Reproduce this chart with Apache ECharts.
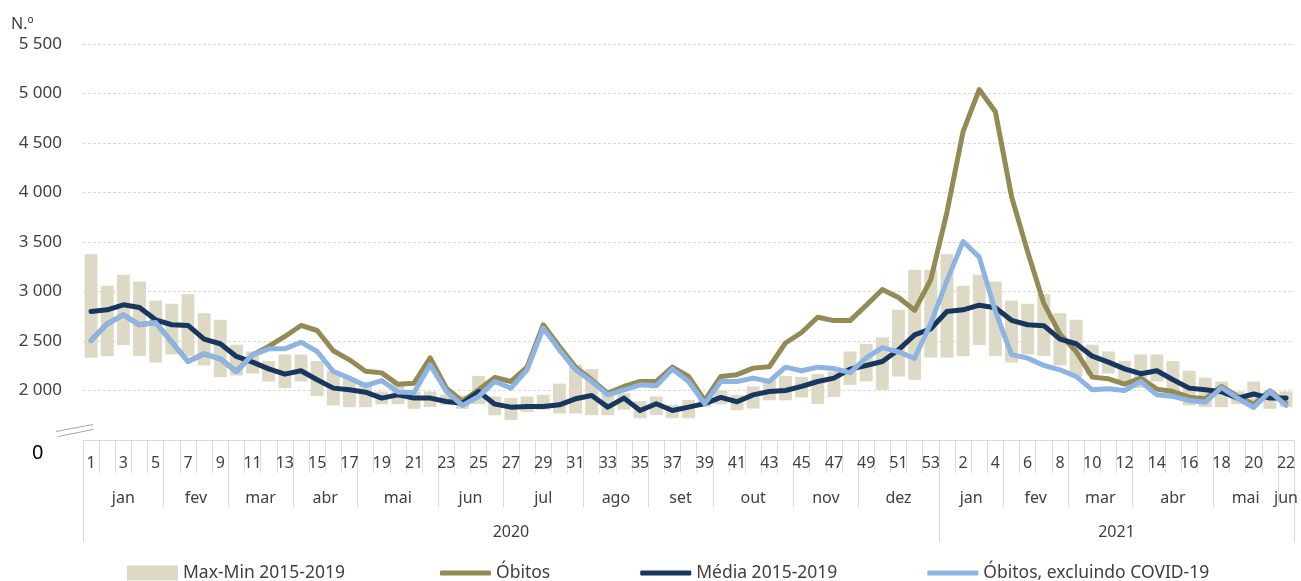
<!DOCTYPE html>
<html><head><meta charset="utf-8">
<script src="https://cdn.jsdelivr.net/npm/echarts@6/dist/echarts.min.js"></script>
<style>html,body{margin:0;padding:0;background:#fff}#c{width:1301px;height:581px}</style>
</head><body><div id="c"></div>
<script>
// Week categories (2020: weeks 1-53, 2021: weeks 1-22)
const weeks = ['1','2','3','4','5','6','7','8','9','10','11','12','13','14','15','16','17','18','19','20','21','22','23','24','25','26','27','28','29','30','31','32','33','34','35','36','37','38','39','40','41','42','43','44','45','46','47','48','49','50','51','52','53',
  '1','2','3','4','5','6','7','8','9','10','11','12','13','14','15','16','17','18','19','20','21','22'];
// Max-Min 2015-2019 band
const maxVals = [3377,3057,3169,3101,2909,2876,2973,2781,2714,2462,2394,2297,2364,2364,2297,2200,2130,2090,1990,2090,1990,1990,1960,1950,2148,1940,1923,1940,1956,2070,2261,2216,1970,1973,1893,1940,1855,1906,1940,2000,1956,2041,2120,2145,2138,2166,2190,2394,2470,2536,2815,3219,3219,
  3377,3057,3169,3101,2909,2876,2973,2781,2714,2462,2394,2297,2364,2364,2297,2200,2130,2090,1990,2090,1990,1990];
const minVals = [2330,2347,2460,2348,2283,2364,2350,2253,2135,2152,2172,2091,2024,2091,1943,1849,1832,1832,1862,1862,1815,1832,1855,1815,1862,1750,1704,1785,1805,1768,1768,1751,1750,1805,1721,1754,1721,1721,1835,1860,1800,1818,1900,1900,1930,1864,1934,2057,2091,2007,2142,2108,2333,
  2330,2347,2460,2348,2283,2364,2350,2253,2135,2152,2172,2091,2024,2091,1943,1849,1832,1832,1862,1862,1815,1832];
// Óbitos
const obitos = [2505,2674,2764,2664,2687,2488,2293,2371,2320,2192,2360,2445,2546,2657,2606,2401,2310,2195,2178,2062,2074,2330,2024,1890,2007,2131,2091,2236,2663,2445,2236,2108,1973,2041,2091,2091,2236,2142,1900,2142,2160,2226,2240,2480,2586,2740,2706,2706,2860,3020,2940,2810,3120,
  3800,4615,5040,4815,3960,3400,2880,2569,2394,2135,2118,2064,2125,2014,1990,1933,1916,2041,1940,1862,1997,1872];
// Média 2015-2019
const media = [2798,2815,2866,2839,2714,2664,2657,2519,2472,2344,2286,2219,2165,2199,2108,2024,2007,1983,1923,1956,1923,1923,1889,1872,1990,1862,1832,1839,1839,1855,1916,1950,1832,1923,1798,1866,1798,1832,1868,1930,1886,1956,1990,2000,2041,2091,2125,2216,2253,2293,2411,2562,2623,
  2798,2815,2862,2836,2709,2664,2655,2519,2472,2347,2286,2219,2170,2199,2108,2024,2007,1987,1923,1965,1923,1923];
// Óbitos, excluindo COVID-19
const semCovid = [2505,2674,2764,2664,2687,2488,2293,2371,2320,2192,2360,2421,2421,2488,2394,2192,2125,2049,2100,1985,1980,2259,1990,1850,1940,2091,2024,2209,2630,2411,2209,2091,1956,2007,2057,2047,2216,2091,1865,2091,2091,2125,2091,2236,2200,2236,2222,2180,2330,2433,2390,2325,2680,
  3110,3505,3347,2800,2362,2327,2253,2209,2142,2007,2017,2000,2091,1956,1940,1899,1882,2030,1923,1828,1990,1849];
const monthNames = ['jan','fev','mar','abr','mai','jun','jul','ago','set','out','nov','dez','jan','fev','mar','abr','mai','jun'];
const monthBounds = [0,5,9,13,17,22,26,31,35,39,44,48,53,57,61,65,70,74,75];
const yearNames = ['2020','2021'];
const yearBounds = [0,53,75];
const yTicks = [2000,2500,3000,3500,4000,4500,5000,5500];

const FONT = 'Noto Sans';
const TXT = '#404040';
const GRIDC = '#d9d9d9';

const monthCenters = monthNames.map((m,i)=>(monthBounds[i]+monthBounds[i+1])/2);
const yearCenters = yearNames.map((m,i)=>(yearBounds[i]+yearBounds[i+1])/2);
const rangeVals = maxVals.map((v,i)=>v-minVals[i]);
const fmtSpace = v => String(v).replace(/\B(?=(\d{3})+(?!\d))/g,' ');

const chart = echarts.init(document.getElementById('c'), null, {renderer:'canvas'});
const legendText = {fontFamily:FONT,fontSize:17.5,color:TXT};
const option = {
  animation:false,
  textStyle:{fontFamily:FONT},
  grid:{left:83,right:4,top:44,bottom:141,containLabel:false},
  legend:[
    {left:127, top:564, padding:0, itemWidth:51, itemHeight:15, textStyle:legendText,
     data:[{name:'Max-Min 2015-2019',icon:'rect'}]},
    {left:440, top:564, padding:0, itemWidth:51, itemHeight:5, itemGap:90, icon:'roundRect', textStyle:legendText,
     data:['Óbitos','Média 2015-2019','Óbitos, excluindo COVID-19']}
  ],
  xAxis:[
    {type:'category',data:weeks,position:'bottom',boundaryGap:true,
     axisLine:{show:true,lineStyle:{color:GRIDC,width:1}},
     axisTick:{show:true,interval:0,length:33,lineStyle:{color:GRIDC}},
     axisLabel:{interval:1,margin:15,fontSize:16,color:TXT,fontFamily:FONT},
     splitLine:{show:false}},
    {type:'value',min:0,max:75,position:'bottom',
     axisLine:{show:false},
     axisTick:{show:true,length:67,customValues:monthBounds,lineStyle:{color:GRIDC}},
     axisLabel:{show:true,margin:50,fontSize:16,color:TXT,fontFamily:FONT,customValues:monthCenters,
       formatter:v=>{const k=monthCenters.indexOf(v);return k>=0?monthNames[k]:'';}},
     splitLine:{show:false}},
    {type:'value',min:0,max:75,position:'bottom',
     axisLine:{show:false},
     axisTick:{show:true,length:102,customValues:yearBounds,lineStyle:{color:GRIDC}},
     axisLabel:{show:true,margin:84,fontSize:16,color:TXT,fontFamily:FONT,customValues:yearCenters,
       formatter:v=>{const k=yearCenters.indexOf(v);return k>=0?yearNames[k]:'';}},
     splitLine:{show:false}}
  ],
  yAxis:{type:'value',min:1500,max:5500,interval:500,
    axisLine:{show:false},axisTick:{show:false},
    axisLabel:{margin:21,fontSize:17,color:TXT,fontFamily:FONT,
      formatter:v=>yTicks.indexOf(v)>=0?fmtSpace(v):''},
    splitLine:{show:true,lineStyle:{color:GRIDC,type:[3,2],width:1}}},
  graphic:[
    {type:'text',left:11,top:16,style:{text:'N.º',font:'16px "Noto Sans"',fill:TXT}},
    {type:'text',left:32,top:443,style:{text:'0',font:'20px "Noto Sans"',fill:'#000'}},
    {type:'line',shape:{x1:56,y1:431.5,x2:93,y2:424.5},style:{stroke:'#a6a6a6',lineWidth:1}},
    {type:'line',shape:{x1:58,y1:436.5,x2:93,y2:429.5},style:{stroke:'#a6a6a6',lineWidth:1}}
  ],
  series:[
    {name:'base',type:'bar',stack:'r',data:minVals,barCategoryGap:'20%',itemStyle:{color:'rgba(0,0,0,0)'},silent:true,z:1},
    {name:'Max-Min 2015-2019',type:'bar',stack:'r',data:rangeVals,barCategoryGap:'20%',itemStyle:{color:'#DDD9C4'},z:1},
    {name:'Óbitos',type:'line',data:obitos,symbol:'none',lineStyle:{color:'#948A54',width:5,join:'round',cap:'round'},itemStyle:{color:'#948A54'},z:3},
    {name:'Média 2015-2019',type:'line',data:media,symbol:'none',lineStyle:{color:'#17375E',width:5,join:'round',cap:'round'},itemStyle:{color:'#17375E'},z:4},
    {name:'Óbitos, excluindo COVID-19',type:'line',data:semCovid,symbol:'none',lineStyle:{color:'#8DB4E2',width:5,join:'round',cap:'round'},itemStyle:{color:'#8DB4E2'},z:5}
  ]
};
chart.setOption(option);
</script></body></html>
